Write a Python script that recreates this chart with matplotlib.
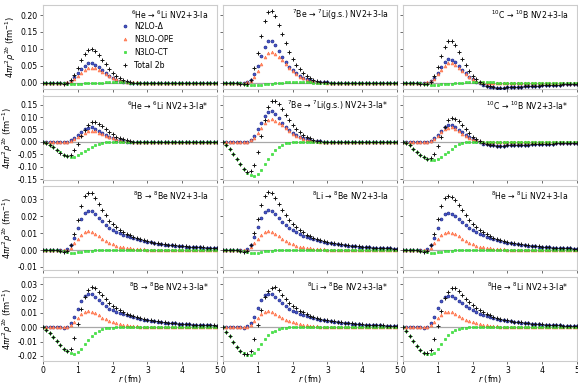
import numpy as np
import matplotlib
matplotlib.use("Agg")
import matplotlib.pyplot as plt

# radial grid (fm)
r_fm = np.round(np.arange(0, 5.05, 0.1), 1)
Z = [0] * 10

# ---------------- 6He -> 6Li ----------------
delta_6He = [0, 0, 0, 0, 0, -0.001, -0.001, 0.000, 0.006, 0.016,
             0.028, 0.040, 0.050, 0.057, 0.058, 0.053, 0.045, 0.037, 0.028, 0.020,
             0.014, 0.009, 0.006, 0.003, 0.001, 0.000, -0.001, -0.001, -0.001, -0.001,
             -0.001, -0.001, 0, 0, 0, 0, 0, 0, 0, 0] + Z + [0]
ope_6He = [0, 0, 0, 0, 0, 0, 0, 0.001, 0.004, 0.010,
           0.019, 0.029, 0.037, 0.043, 0.044, 0.042, 0.037, 0.031, 0.025, 0.019,
           0.014, 0.010, 0.007, 0.005, 0.003, 0.002, 0.001, 0.001, 0, 0] + Z + Z + [0]
ct_6He_Ia = [0, 0, 0, 0, -0.001, -0.001, -0.002, -0.003, -0.003, -0.003,
             -0.003, -0.003, -0.002, -0.002, -0.001, -0.001, 0, 0, 0.001, 0.001,
             0.001, 0.001, 0.001, 0.001, 0.001, 0, 0, 0, 0, 0] + Z + Z + [0]
tot_6He_Ia = [0, 0, 0, 0, -0.001, -0.002, -0.003, -0.002, 0.007, 0.023,
              0.044, 0.066, 0.085, 0.098, 0.101, 0.094, 0.082, 0.068, 0.054, 0.040,
              0.029, 0.020, 0.014, 0.009, 0.005, 0.002, 0, 0, -0.001, -0.001,
              -0.001, -0.001, 0, 0, 0, 0, 0, 0, 0, 0] + Z + [0]
ct_6He_Ias = [0, -0.004, -0.012, -0.022, -0.033, -0.043, -0.052, -0.058, -0.061, -0.060,
              -0.055, -0.047, -0.038, -0.028, -0.019, -0.012, -0.007, -0.004, -0.002, -0.001,
              0, 0.001, 0.001, 0.001, 0, 0, 0, 0, 0, 0] + Z + Z + [0]
tot_6He_Ias = [0, -0.004, -0.012, -0.022, -0.033, -0.044, -0.053, -0.057, -0.052, -0.033,
               -0.008, 0.022, 0.048, 0.068, 0.080, 0.079, 0.073, 0.063, 0.051, 0.040,
               0.030, 0.021, 0.015, 0.010, 0.006, 0.003, 0.001, 0, -0.001, -0.001,
               -0.001, 0, 0, 0, 0, 0, 0, 0, 0, 0] + Z + [0]

# ---------------- 7Be -> 7Li(g.s.) ----------------
delta_7Be = [0, 0, 0, 0, 0, -0.001, -0.001, 0.001, 0.008, 0.025,
             0.050, 0.078, 0.105, 0.122, 0.124, 0.112, 0.095, 0.077, 0.061, 0.047,
             0.036, 0.027, 0.020, 0.014, 0.010, 0.007, 0.004, 0.003, 0.002, 0.001,
             0.001, 0, 0, 0, 0, 0, 0, 0, 0, 0] + Z + [0]
ope_7Be = [0, 0, 0, 0, 0, 0, 0, 0.001, 0.006, 0.017,
           0.035, 0.056, 0.075, 0.088, 0.091, 0.086, 0.077, 0.066, 0.054, 0.043,
           0.033, 0.025, 0.018, 0.013, 0.009, 0.006, 0.004, 0.002, 0.001, 0.001] + Z + Z + [0]
ct_7Be_Ia = [0, 0, 0, 0, -0.001, -0.002, -0.004, -0.006, -0.007, -0.007,
             -0.007, -0.006, -0.005, -0.004, -0.003, -0.002, -0.001, 0, 0.001, 0.001,
             0.001, 0.001, 0.001, 0.001, 0.001, 0.001, 0, 0, 0, 0] + Z + Z + [0]
tot_7Be_Ia = [0, 0, 0, 0, -0.001, -0.003, -0.005, -0.004, 0.009, 0.042,
              0.088, 0.138, 0.183, 0.210, 0.213, 0.196, 0.171, 0.143, 0.116, 0.091,
              0.070, 0.053, 0.039, 0.028, 0.020, 0.014, 0.008, 0.005, 0.003, 0.002,
              0.001, 0, 0, 0, 0, 0, 0, 0, 0, 0] + Z + [0]
ct_7Be_Ias = [0, -0.012, -0.028, -0.048, -0.070, -0.090, -0.110, -0.125, -0.135, -0.137,
              -0.128, -0.112, -0.090, -0.068, -0.048, -0.031, -0.019, -0.011, -0.006, -0.003,
              -0.001, 0, 0.001, 0.001, 0.001, 0.001, 0, 0, 0, 0] + Z + Z + [0]
tot_7Be_Ias = [0, -0.012, -0.028, -0.048, -0.070, -0.091, -0.111, -0.122, -0.118, -0.095,
               -0.043, 0.022, 0.090, 0.142, 0.166, 0.166, 0.153, 0.132, 0.109, 0.087,
               0.068, 0.052, 0.039, 0.028, 0.020, 0.014, 0.008, 0.005, 0.003, 0.001] + Z + Z + [0]

# ---------------- 10C -> 10B ----------------
delta_10C = [0, 0, 0, 0, 0, -0.001, -0.001, -0.001, 0.004, 0.014,
             0.028, 0.045, 0.060, 0.069, 0.068, 0.060, 0.049, 0.038, 0.027, 0.018,
             0.010, 0.003, -0.002, -0.007, -0.010, -0.012, -0.014, -0.015, -0.015, -0.015,
             -0.014, -0.014, -0.013, -0.013, -0.012, -0.011, -0.011, -0.010, -0.009, -0.009,
             -0.008, -0.008, -0.007, -0.007, -0.006, -0.006, -0.005, -0.005, -0.005, -0.004,
             -0.004]
ope_10C = [0, 0, 0, 0, 0, 0, 0, 0.001, 0.004, 0.012,
           0.024, 0.038, 0.050, 0.057, 0.058, 0.052, 0.043, 0.033, 0.024, 0.016,
           0.010, 0.006, 0.003, 0.001, 0, 0, 0, 0, 0, 0] + Z + Z + [0]
ct_10C_Ia = [0, 0, 0, 0, -0.001, -0.002, -0.003, -0.005, -0.006, -0.006,
             -0.006, -0.005, -0.005, -0.004, -0.003, -0.002, -0.001, 0, 0.001, 0.001,
             0.001, 0.001, 0.001, 0.001, 0.001, 0.001, 0.001, 0, 0, 0] + Z + Z + [0]
tot_10C_Ia = [0, 0, 0, 0, -0.001, -0.003, -0.004, -0.005, 0.002, 0.020,
              0.046, 0.078, 0.105, 0.122, 0.123, 0.110, 0.091, 0.071, 0.052, 0.035,
              0.021, 0.010, 0.002, -0.005, -0.009, -0.011, -0.013, -0.015, -0.015, -0.015,
              -0.014, -0.014, -0.013, -0.013, -0.012, -0.011, -0.011, -0.010, -0.009, -0.009,
              -0.008, -0.008, -0.007, -0.007, -0.006, -0.006, -0.005, -0.005, -0.005, -0.004,
              -0.004]
ct_10C_Ias = [0, -0.005, -0.014, -0.027, -0.040, -0.052, -0.061, -0.068, -0.072, -0.074,
              -0.070, -0.062, -0.051, -0.039, -0.027, -0.017, -0.009, -0.004, -0.001, 0,
              0.001, 0.001, 0.001, 0.001, 0.001, 0, 0, 0, 0, 0] + Z + Z + [0]
tot_10C_Ias = [0, -0.005, -0.014, -0.027, -0.040, -0.053, -0.062, -0.068, -0.064, -0.048,
               -0.018, 0.021, 0.059, 0.087, 0.097, 0.093, 0.083, 0.067, 0.050, 0.034,
               0.021, 0.010, 0.002, -0.005, -0.009, -0.011, -0.013, -0.015, -0.015, -0.015,
               -0.014, -0.014, -0.013, -0.013, -0.012, -0.011, -0.011, -0.010, -0.009, -0.009,
               -0.008, -0.008, -0.007, -0.007, -0.006, -0.006, -0.005, -0.005, -0.005, -0.004,
               -0.004]

# ---------------- 8B -> 8Be ----------------
delta_8B = [0, 0, 0, 0, 0, 0, -0.0003, 0.0005, 0.0030, 0.0070,
            0.0130, 0.0185, 0.0220, 0.0233, 0.0232, 0.0215, 0.0190, 0.0170, 0.0150, 0.0130,
            0.0118, 0.0108, 0.0099, 0.0091, 0.0083, 0.0076, 0.0070, 0.0064, 0.0059, 0.0054,
            0.0050, 0.0046, 0.0042, 0.0039, 0.0036, 0.0033, 0.0031, 0.0029, 0.0027, 0.0025,
            0.0023, 0.0021, 0.0020, 0.0018, 0.0017, 0.0016, 0.0015, 0.0014, 0.0013, 0.0012,
            0.0011]
ope_8B = [0, 0, 0, 0, 0, 0, 0, 0.0003, 0.0015, 0.0040,
          0.0065, 0.0090, 0.0107, 0.0112, 0.0108, 0.0097, 0.0083, 0.0068, 0.0055, 0.0043,
          0.0034, 0.0027, 0.0021, 0.0017, 0.0013, 0.0010, 0.0008, 0.0007, 0.0005, 0.0004,
          0.0003, 0.0003, 0.0002, 0.0002, 0.0002, 0.0001, 0.0001, 0.0001, 0.0001, 0.0001,
          0.0001, 0.0001, 0.0001, 0, 0, 0, 0, 0, 0, 0, 0]
ct_8B_Ia = [0, 0, 0, 0, 0, -0.0003, -0.0008, -0.0013, -0.0016, -0.0016,
            -0.0014, -0.0011, -0.0008, -0.0005, -0.0003, -0.0001, 0, 0.0001, 0.0002, 0.0002,
            0.0002, 0.0002, 0.0002, 0.0002, 0.0001, 0.0001, 0.0001, 0.0001, 0.0001, 0.0001,
            0.0001, 0, 0, 0, 0, 0, 0, 0, 0, 0] + Z + [0]
tot_8B_Ia = [0, 0, 0, 0, 0, -0.0003, -0.0011, -0.0005, 0.0029, 0.0094,
             0.0181, 0.0264, 0.0319, 0.0340, 0.0337, 0.0311, 0.0273, 0.0239, 0.0207, 0.0175,
             0.0154, 0.0137, 0.0122, 0.0110, 0.0097, 0.0087, 0.0079, 0.0072, 0.0065, 0.0059,
             0.0054, 0.0049, 0.0044, 0.0041, 0.0038, 0.0034, 0.0032, 0.0030, 0.0028, 0.0026,
             0.0024, 0.0022, 0.0021, 0.0019, 0.0018, 0.0017, 0.0016, 0.0015, 0.0014, 0.0013,
             0.0012]
ct_8B_Ias = [0, -0.0020, -0.0040, -0.0068, -0.0097, -0.0125, -0.0150, -0.0168, -0.0183, -0.0186,
             -0.0175, -0.0150, -0.0117, -0.0086, -0.0060, -0.0038, -0.0023, -0.0014, -0.0008, -0.0004,
             -0.0002, -0.0001, 0, 0, 0, 0, 0, 0, 0, 0] + Z + Z + [0]
tot_8B_Ias = [0, -0.0020, -0.0040, -0.0068, -0.0097, -0.0125, -0.0153, -0.0163, -0.0155, -0.0076,
              0.0020, 0.0125, 0.0210, 0.0259, 0.0280, 0.0274, 0.0250, 0.0224, 0.0197, 0.0169,
              0.0150, 0.0134, 0.0120, 0.0108, 0.0096, 0.0086, 0.0078, 0.0071, 0.0064, 0.0058,
              0.0053, 0.0049, 0.0044, 0.0041, 0.0038, 0.0034, 0.0032, 0.0030, 0.0028, 0.0026,
              0.0024, 0.0022, 0.0021, 0.0019, 0.0018, 0.0017, 0.0016, 0.0015, 0.0014, 0.0013,
              0.0012]

# ---------------- 8Li -> 8Be ----------------
delta_8Li = [0, 0, 0, 0, 0, 0, -0.0003, 0.0006, 0.0032, 0.0075,
             0.0135, 0.0190, 0.0224, 0.0235, 0.0230, 0.0212, 0.0190, 0.0168, 0.0149, 0.0131,
             0.0117, 0.0105, 0.0095, 0.0086, 0.0078, 0.0071, 0.0065, 0.0059, 0.0054, 0.0049,
             0.0045, 0.0041, 0.0038, 0.0035, 0.0032, 0.0029, 0.0027, 0.0025, 0.0023, 0.0021,
             0.0019, 0.0018, 0.0016, 0.0015, 0.0014, 0.0013, 0.0012, 0.0011, 0.0010, 0.0009,
             0.0009]
ope_8Li = [0, 0, 0, 0, 0, 0, 0, 0.0003, 0.0016, 0.0042,
           0.0068, 0.0092, 0.0108, 0.0112, 0.0107, 0.0096, 0.0082, 0.0067, 0.0054, 0.0043,
           0.0034, 0.0027, 0.0021, 0.0017, 0.0013, 0.0010, 0.0008, 0.0007, 0.0005, 0.0004,
           0.0003, 0.0003, 0.0002, 0.0002, 0.0002, 0.0001, 0.0001, 0.0001, 0.0001, 0.0001,
           0.0001, 0.0001, 0.0001, 0, 0, 0, 0, 0, 0, 0, 0]
ct_8Li_Ia = [0, 0, 0, 0, 0, -0.0003, -0.0008, -0.0013, -0.0017, -0.0017,
             -0.0015, -0.0012, -0.0008, -0.0005, -0.0003, -0.0001, 0, 0.0001, 0.0002, 0.0002,
             0.0002, 0.0002, 0.0002, 0.0002, 0.0001, 0.0001, 0.0001, 0.0001, 0.0001, 0.0001,
             0.0001, 0, 0, 0, 0, 0, 0, 0, 0, 0] + Z + [0]
tot_8Li_Ia = [0, 0, 0, 0, 0, -0.0003, -0.0011, -0.0004, 0.0031, 0.0099,
              0.0186, 0.0269, 0.0323, 0.0342, 0.0336, 0.0308, 0.0273, 0.0237, 0.0206, 0.0176,
              0.0153, 0.0134, 0.0118, 0.0105, 0.0092, 0.0082, 0.0074, 0.0067, 0.0060, 0.0054,
              0.0049, 0.0044, 0.0040, 0.0037, 0.0034, 0.0030, 0.0028, 0.0026, 0.0024, 0.0022,
              0.0020, 0.0019, 0.0017, 0.0015, 0.0014, 0.0013, 0.0012, 0.0011, 0.0010, 0.0009,
              0.0009]
ct_8Li_Ias = [0, -0.0030, -0.0064, -0.0100, -0.0135, -0.0163, -0.0183, -0.0193, -0.0195, -0.0182,
              -0.0155, -0.0118, -0.0083, -0.0057, -0.0036, -0.0023, -0.0012, -0.0006, -0.0003, -0.0001,
              0, 0, 0, 0, 0, 0, 0, 0, 0, 0] + Z + Z + [0]
tot_8Li_Ias = [0, -0.0030, -0.0064, -0.0100, -0.0135, -0.0163, -0.0185, -0.0187, -0.0165, -0.0080,
               0.0015, 0.0120, 0.0210, 0.0255, 0.0278, 0.0280, 0.0258, 0.0228, 0.0200, 0.0172,
               0.0151, 0.0133, 0.0117, 0.0104, 0.0092, 0.0082, 0.0074, 0.0067, 0.0060, 0.0054,
               0.0049, 0.0045, 0.0041, 0.0037, 0.0034, 0.0031, 0.0029, 0.0027, 0.0025, 0.0023,
               0.0021, 0.0019, 0.0018, 0.0016, 0.0015, 0.0014, 0.0013, 0.0012, 0.0011, 0.0010,
               0.0010]

# ---------------- 8He -> 8Li ----------------
delta_8He = [0, 0, 0, 0, 0, 0, -0.0003, 0.0005, 0.0030, 0.0072,
             0.0132, 0.0185, 0.0212, 0.0218, 0.0216, 0.0205, 0.0187, 0.0168, 0.0150, 0.0133,
             0.0118, 0.0106, 0.0096, 0.0087, 0.0079, 0.0072, 0.0065, 0.0059, 0.0054, 0.0049,
             0.0045, 0.0041, 0.0038, 0.0035, 0.0032, 0.0029, 0.0027, 0.0025, 0.0023, 0.0021,
             0.0019, 0.0018, 0.0016, 0.0015, 0.0014, 0.0013, 0.0012, 0.0011, 0.0010, 0.0009,
             0.0009]
ope_8He = [0, 0, 0, 0, 0, 0, 0, 0.0003, 0.0015, 0.0040,
           0.0064, 0.0088, 0.0104, 0.0108, 0.0104, 0.0094, 0.0081, 0.0067, 0.0054, 0.0043,
           0.0034, 0.0027, 0.0021, 0.0017, 0.0013, 0.0010, 0.0008, 0.0007, 0.0005, 0.0004,
           0.0003, 0.0003, 0.0002, 0.0002, 0.0002, 0.0001, 0.0001, 0.0001, 0.0001, 0.0001,
           0.0001, 0.0001, 0.0001, 0, 0, 0, 0, 0, 0, 0, 0]
ct_8He_Ia = [0, 0, 0, 0, 0, -0.0003, -0.0008, -0.0013, -0.0016, -0.0016,
             -0.0014, -0.0011, -0.0008, -0.0005, -0.0003, -0.0001, 0, 0.0001, 0.0002, 0.0002,
             0.0002, 0.0002, 0.0002, 0.0002, 0.0001, 0.0001, 0.0001, 0.0001, 0.0001, 0.0001,
             0.0001, 0, 0, 0, 0, 0, 0, 0, 0, 0] + Z + [0]
tot_8He_Ia = [0, 0, 0, 0, 0, -0.0003, -0.0011, -0.0005, 0.0029, 0.0096,
              0.0183, 0.0262, 0.0308, 0.0321, 0.0317, 0.0298, 0.0268, 0.0236, 0.0206, 0.0178,
              0.0154, 0.0135, 0.0119, 0.0106, 0.0093, 0.0083, 0.0074, 0.0067, 0.0060, 0.0054,
              0.0049, 0.0044, 0.0040, 0.0037, 0.0034, 0.0030, 0.0028, 0.0026, 0.0024, 0.0022,
              0.0020, 0.0019, 0.0017, 0.0015, 0.0014, 0.0013, 0.0012, 0.0011, 0.0010, 0.0009,
              0.0009]
ct_8He_Ias = [0, -0.0028, -0.0060, -0.0095, -0.0130, -0.0158, -0.0178, -0.0189, -0.0190, -0.0178,
              -0.0152, -0.0116, -0.0082, -0.0056, -0.0036, -0.0022, -0.0012, -0.0006, -0.0003, -0.0001,
              0, 0, 0, 0, 0, 0, 0, 0, 0, 0] + Z + Z + [0]
tot_8He_Ias = [0, -0.0028, -0.0060, -0.0095, -0.0130, -0.0158, -0.0181, -0.0182, -0.0160, -0.0080,
               0.0012, 0.0115, 0.0205, 0.0250, 0.0272, 0.0276, 0.0255, 0.0228, 0.0200, 0.0175,
               0.0154, 0.0135, 0.0119, 0.0106, 0.0093, 0.0083, 0.0074, 0.0067, 0.0060, 0.0054,
               0.0049, 0.0044, 0.0040, 0.0037, 0.0034, 0.0030, 0.0028, 0.0026, 0.0024, 0.0022,
               0.0020, 0.0019, 0.0017, 0.0015, 0.0014, 0.0013, 0.0012, 0.0011, 0.0010, 0.0009,
               0.0009]

titles = [
    [r'$^{6}$He → $^{6}$Li NV2+3-Ia', r'$^{7}$Be → $^{7}$Li(g.s.) NV2+3-Ia', r'$^{10}$C → $^{10}$B NV2+3-Ia'],
    [r'$^{6}$He → $^{6}$Li NV2+3-Ia*', r'$^{7}$Be → $^{7}$Li(g.s.) NV2+3-Ia*', r'$^{10}$C → $^{10}$B NV2+3-Ia*'],
    [r'$^{8}$B → $^{8}$Be NV2+3-Ia', r'$^{8}$Li → $^{8}$Be NV2+3-Ia', r'$^{8}$He → $^{8}$Li NV2+3-Ia'],
    [r'$^{8}$B → $^{8}$Be NV2+3-Ia*', r'$^{8}$Li → $^{8}$Be NV2+3-Ia*', r'$^{8}$He → $^{8}$Li NV2+3-Ia*'],
]
panels = [
    [(delta_6He, ope_6He, ct_6He_Ia, tot_6He_Ia), (delta_7Be, ope_7Be, ct_7Be_Ia, tot_7Be_Ia),
     (delta_10C, ope_10C, ct_10C_Ia, tot_10C_Ia)],
    [(delta_6He, ope_6He, ct_6He_Ias, tot_6He_Ias), (delta_7Be, ope_7Be, ct_7Be_Ias, tot_7Be_Ias),
     (delta_10C, ope_10C, ct_10C_Ias, tot_10C_Ias)],
    [(delta_8B, ope_8B, ct_8B_Ia, tot_8B_Ia), (delta_8Li, ope_8Li, ct_8Li_Ia, tot_8Li_Ia),
     (delta_8He, ope_8He, ct_8He_Ia, tot_8He_Ia)],
    [(delta_8B, ope_8B, ct_8B_Ias, tot_8B_Ias), (delta_8Li, ope_8Li, ct_8Li_Ias, tot_8Li_Ias),
     (delta_8He, ope_8He, ct_8He_Ias, tot_8He_Ias)],
]
series_labels = ['N2LO-Δ', 'N3LO-OPE', 'N3LO-CT', 'Total 2b']

row_ylims = [(-0.019, 0.23), (-0.152, 0.187), (-0.0118, 0.038), (-0.0232, 0.0355)]
row_yticks = [[0.0, 0.05, 0.10, 0.15, 0.20],
              [-0.15, -0.10, -0.05, 0.0, 0.05, 0.10, 0.15],
              [-0.01, 0.0, 0.01, 0.02, 0.03],
              [-0.02, -0.01, 0.0, 0.01, 0.02, 0.03]]

W, H = 578, 385
fig = plt.figure(figsize=(W / 100, H / 100), dpi=100)
FS = 5.6
col_x = [43, 223, 403]
col_w = 174
row_top = [5, 95.5, 186, 276.5]
row_h = 84

for i in range(4):
    for j in range(3):
        ax = fig.add_axes([col_x[j] / W, 1 - (row_top[i] + row_h) / H, col_w / W, row_h / H])
        d, o, c, t = panels[i][j]
        ax.axhline(0, color='#a8a8a8', lw=0.9, zorder=1)
        ax.plot(r_fm, d, ls='none', marker='o', ms=2.1, mfc='#4455cc', mec='#1f2a8a', mew=0.5,
                label=series_labels[0], zorder=3)
        ax.plot(r_fm, o, ls='none', marker='^', ms=2.1, mfc='#ff9070', mec='#ff6a3d', mew=0.4,
                label=series_labels[1], zorder=3)
        ax.plot(r_fm, c, ls='none', marker='s', ms=2.0, mfc='#44ee44', mec='#22cc22', mew=0.4,
                label=series_labels[2], zorder=4)
        ax.plot(r_fm, t, ls='none', marker='+', ms=2.8, color='#111111', mew=0.7,
                label=series_labels[3], zorder=5)
        ax.set_xlim(0, 5)
        ax.set_ylim(*row_ylims[i])
        ax.set_yticks(row_yticks[i])
        ax.set_xticks([0, 1, 2, 3, 4, 5])
        ax.yaxis.set_major_formatter(matplotlib.ticker.FormatStrFormatter('%.2f'))
        for s in ax.spines.values():
            s.set_color('#cccccc')
            s.set_linewidth(0.8)
        ax.tick_params(axis='both', direction='out', length=2.5, width=0.6, color='#555555',
                       labelsize=FS, pad=1.2)
        if j != 0:
            ax.tick_params(axis='y', labelleft=False)
        else:
            ax.set_ylabel(r'$4\pi r^2\rho^{2b}$ (fm$^{-1}$)', fontsize=FS + 0.4, labelpad=2)
        if i != 3:
            ax.tick_params(axis='x', labelbottom=False)
        else:
            ax.set_xlabel(r'$r$ (fm)', fontsize=FS + 0.3, labelpad=-1.0)
        ax.text(0.95, 0.88, titles[i][j], transform=ax.transAxes, ha='right', va='center',
                fontsize=FS)
        if i == 0 and j == 0:
            ax.legend(loc='upper left', bbox_to_anchor=(0.42, 0.86), frameon=False, fontsize=FS,
                      handlelength=1.0, handletextpad=0.6, labelspacing=0.5, borderpad=0.2,
                      markerscale=1.0)

fig.savefig('out.png', dpi=100)
